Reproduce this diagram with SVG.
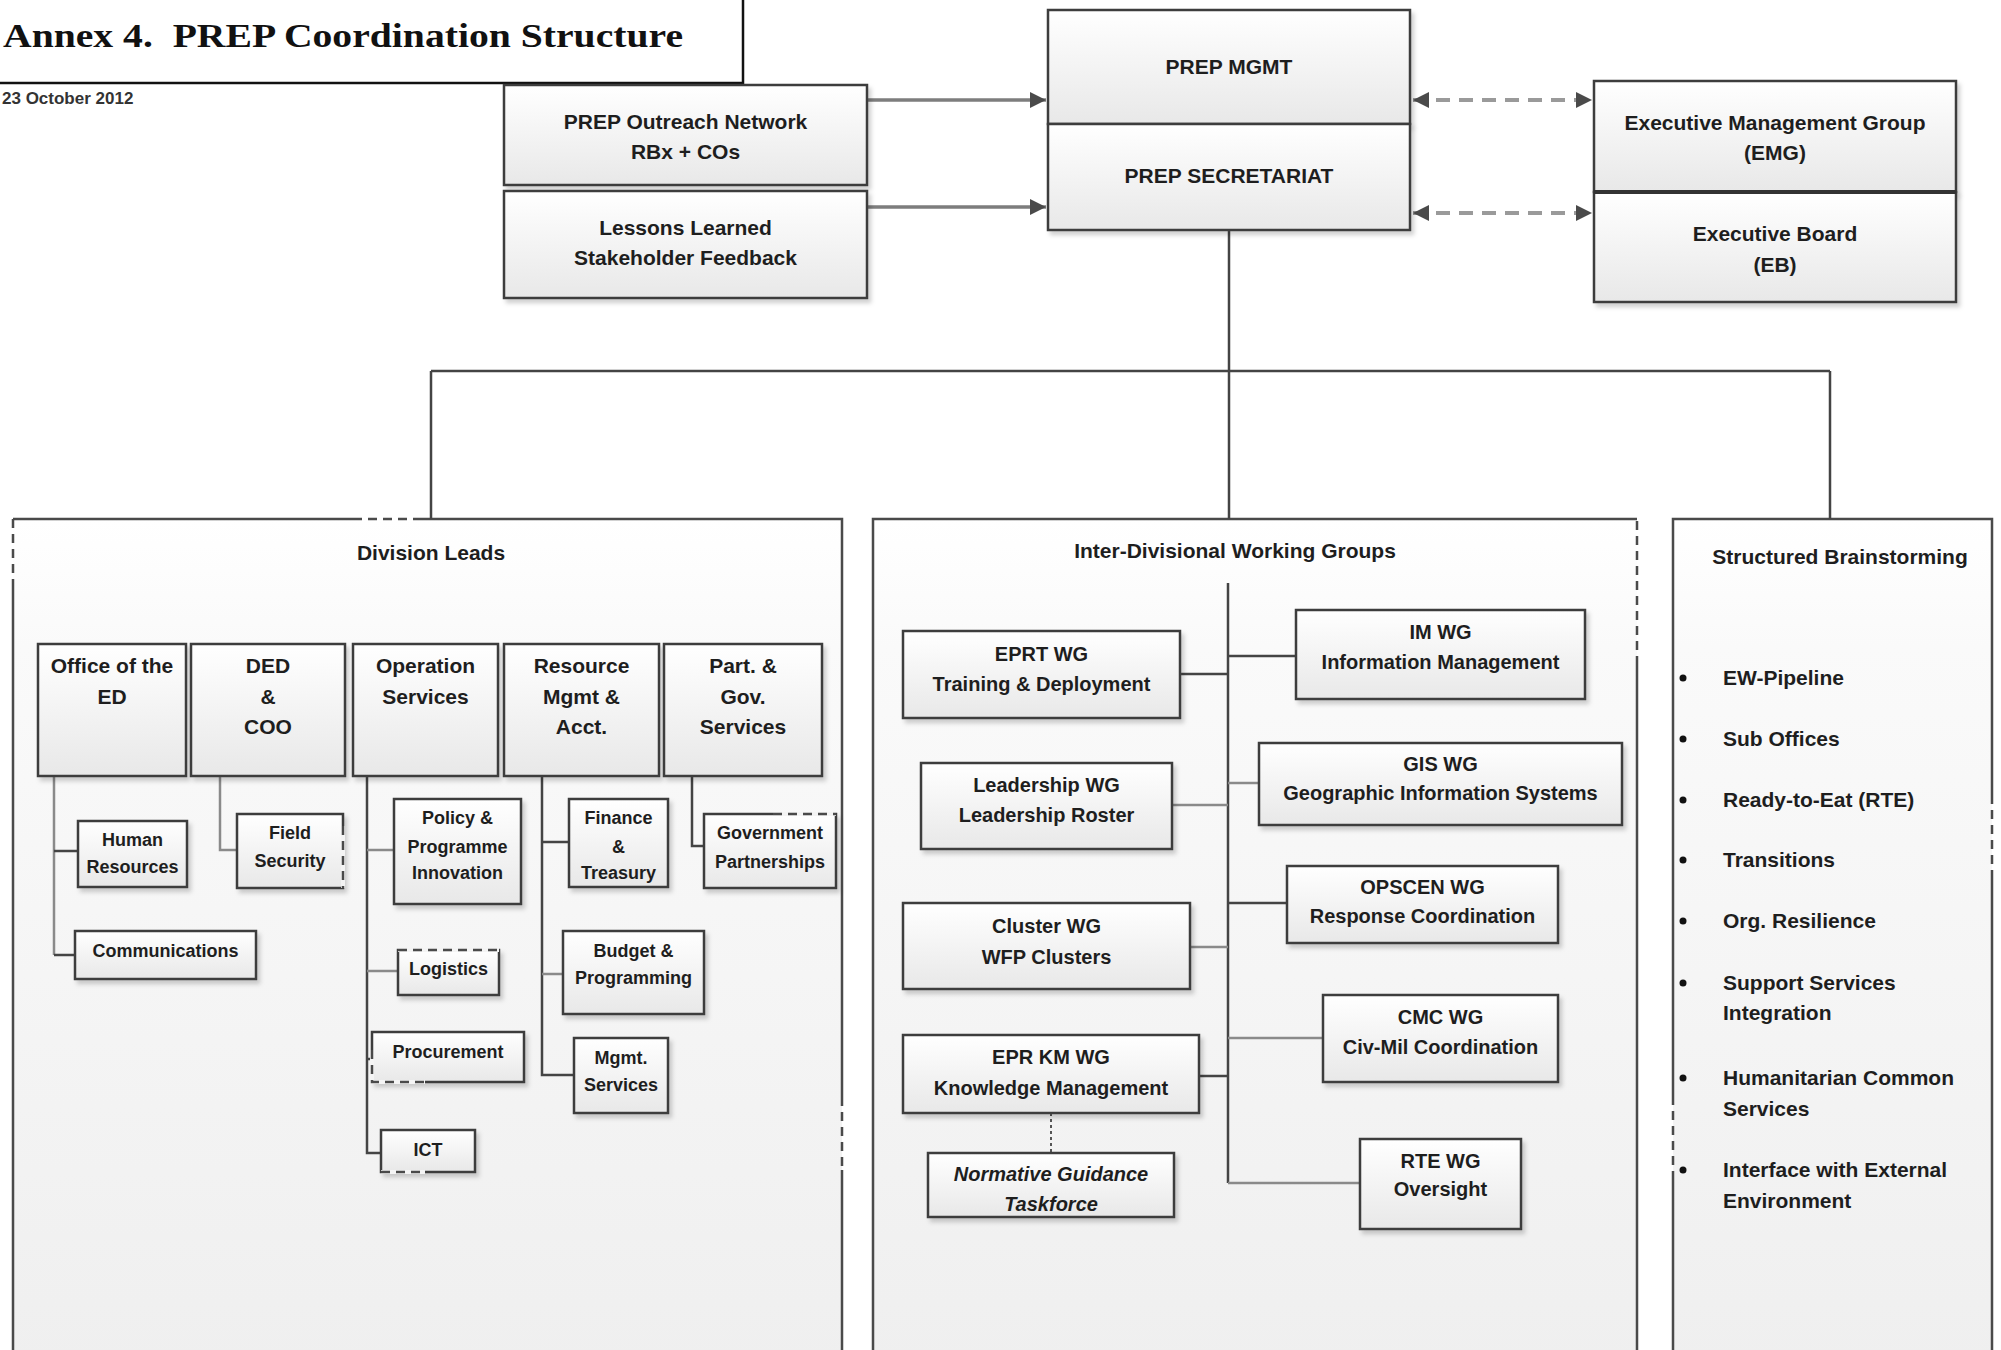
<svg xmlns="http://www.w3.org/2000/svg" width="2001" height="1350" viewBox="0 0 2001 1350">
<defs>
<linearGradient id="gb" x1="0" y1="0" x2="0" y2="1"><stop offset="0" stop-color="#ffffff"/><stop offset="1" stop-color="#e8e8e8"/></linearGradient>
<linearGradient id="gc" x1="0" y1="0" x2="0" y2="1"><stop offset="0" stop-color="#ffffff"/><stop offset="0.15" stop-color="#fafafa"/><stop offset="1" stop-color="#efefef"/></linearGradient>
<filter id="sh" x="-10%" y="-10%" width="125%" height="135%"><feDropShadow dx="3" dy="4" stdDeviation="2" flood-color="#000" flood-opacity="0.18"/></filter>
<marker id="ah" markerUnits="userSpaceOnUse" markerWidth="18" markerHeight="18" refX="16" refY="8" orient="auto-start-reverse"><path d="M0,0 L16,8 L0,16 z" fill="#4a4a4a"/></marker>
</defs>
<style>
.box{fill:url(#gb);stroke:#3d3d3d;stroke-width:2.5;filter:url(#sh)}
.cont{fill:url(#gc);stroke:none}
.bd{fill:none;stroke:#4a4a4a;stroke-width:2.5}
.bdd{fill:none;stroke:#4a4a4a;stroke-width:2.5;stroke-dasharray:9 6}
.gap{fill:none;stroke:#f4f4f4;stroke-width:4}
.ln{fill:none;stroke:#444;stroke-width:2.5}
.lt{fill:none;stroke:#8a8a8a;stroke-width:2.5}
.dot{fill:none;stroke:#555;stroke-width:2;stroke-dasharray:3 3}
.arr{fill:none;stroke:#7d7d7d;stroke-width:3.5}
.darr{fill:none;stroke:#9a9a9a;stroke-width:4;stroke-dasharray:14 9}
text{font-family:"Liberation Sans",Arial,sans-serif;font-weight:bold;fill:#1e1e1e;text-anchor:middle}
.f21{font-size:21px}
.f20{font-size:20px}
.f18{font-size:18px}
.it{font-style:italic}
.sb{font-size:21px;text-anchor:start}
</style>

<g id="title">
<rect x="-3" y="-3" width="746" height="86" fill="#ffffff" stroke="#111" stroke-width="2.5"/>
<text x="3" y="47" textLength="680" lengthAdjust="spacingAndGlyphs" style="font-family:'Liberation Serif','Times New Roman',serif;font-size:33px;text-anchor:start;fill:#111;white-space:pre">Annex 4.  PREP Coordination Structure</text>
</g>
<g id="date"><text x="2" y="104" style="font-size:17px;text-anchor:start;fill:#333">23 October 2012</text></g>

<g id="containers">
<g id="division-leads">
<rect class="cont" x="13" y="519" width="829" height="850"/>
<path class="bd" d="M13,580 V1370 M13,519 H353 M420,519 H842 V1097 M842,1170 V1370"/>
<path class="bdd" d="M353,519 H420 M13,519 V580 M842,1097 V1170"/>
<text class="f21" x="431" y="560">Division Leads</text>
</g>
<g id="inter-divisional">
<rect class="cont" x="873" y="519" width="764" height="850"/>
<path class="bd" d="M873,1370 V519 H1637 M1637,658 V1370"/>
<path class="bdd" d="M1637,521 V658"/>
<text class="f21" x="1235" y="558">Inter-Divisional Working Groups</text>
</g>
<g id="structured-brainstorming">
<rect class="cont" x="1673" y="519" width="319" height="850"/>
<path class="bd" d="M1673,1370 V1177 M1673,1096 V519 H1992 V795 M1992,874 V1370"/>
<path class="bdd" d="M1673,1096 V1177 M1992,795 V874"/>
<text class="f21" x="1840" y="564">Structured Brainstorming</text>
<g fill="#111">
<circle cx="1683" cy="678" r="3.5"/><circle cx="1683" cy="739" r="3.5"/><circle cx="1683" cy="800" r="3.5"/><circle cx="1683" cy="860" r="3.5"/><circle cx="1683" cy="921" r="3.5"/><circle cx="1683" cy="983" r="3.5"/><circle cx="1683" cy="1078" r="3.5"/><circle cx="1683" cy="1170" r="3.5"/>
</g>
<text class="sb" x="1723" y="685">EW-Pipeline</text>
<text class="sb" x="1723" y="746">Sub Offices</text>
<text class="sb" x="1723" y="807">Ready-to-Eat (RTE)</text>
<text class="sb" x="1723" y="867">Transitions</text>
<text class="sb" x="1723" y="928">Org. Resilience</text>
<text class="sb" x="1723" y="990">Support Services</text>
<text class="sb" x="1723" y="1020">Integration</text>
<text class="sb" x="1723" y="1085">Humanitarian Common</text>
<text class="sb" x="1723" y="1116">Services</text>
<text class="sb" x="1723" y="1177">Interface with External</text>
<text class="sb" x="1723" y="1208">Environment</text>
</g>
</g>

<g id="connectors">
<path class="arr" d="M867,100 H1046" marker-end="url(#ah)"/>
<path class="arr" d="M867,207 H1046" marker-end="url(#ah)"/>
<path class="darr" d="M1413,100 H1592" marker-start="url(#ah)" marker-end="url(#ah)"/>
<path class="darr" d="M1413,213 H1592" marker-start="url(#ah)" marker-end="url(#ah)"/>
<path class="ln" d="M1229,230 V519 M431,371 H1830 M431,371 V519 M1830,371 V519"/>
<path class="lt" d="M54,776 V955"/>
<path class="ln" d="M54,851 H78 M54,955 H75"/>
<path class="lt" d="M220,776 V850 H237"/>
<path class="ln" d="M367,776 V1153 H381 M367,1059 H372"/>
<path class="lt" d="M367,850 H394 M367,971 H398"/>
<path class="ln" d="M542,776 V1075 H574 M542,842 H569"/>
<path class="lt" d="M542,974 H563"/>
<path class="ln" d="M692,776 V846 H704"/>
<path class="ln" d="M1228,583 V1183 M1180,674 H1228 M1228,656 H1296 M1228,903 H1287 M1199,1076 H1228"/>
<path class="lt" d="M1172,805 H1228 M1228,783 H1259 M1190,947 H1228 M1228,1038 H1323 M1228,1183 H1360"/>
<path class="dot" d="M1051,1113 V1153"/>
</g>

<g id="prep-mgmt"><rect class="box" x="1048" y="10" width="362" height="114"/><text class="f21" x="1229" y="74">PREP MGMT</text></g>
<g id="prep-secretariat"><rect class="box" x="1048" y="124" width="362" height="106"/><text class="f21" x="1229" y="183">PREP SECRETARIAT</text></g>
<g id="outreach"><rect class="box" x="504" y="85" width="363" height="100"/><text class="f21" x="685.5" y="129">PREP Outreach Network</text><text class="f21" x="685.5" y="159">RBx + COs</text></g>
<g id="lessons"><rect class="box" x="504" y="191" width="363" height="107"/><text class="f21" x="685.5" y="235">Lessons Learned</text><text class="f21" x="685.5" y="265">Stakeholder Feedback</text></g>
<g id="emg"><rect class="box" x="1594" y="81" width="362" height="111"/><text class="f21" x="1775" y="130">Executive Management Group</text><text class="f21" x="1775" y="160">(EMG)</text></g>
<g id="eb"><rect class="box" x="1594" y="192" width="362" height="110"/><path d="M1594,192 H1956" stroke="#333" stroke-width="4"/><text class="f21" x="1775" y="241">Executive Board</text><text class="f21" x="1775" y="272">(EB)</text></g>

<g id="office-ed"><rect class="box" x="38" y="644" width="148" height="132"/><text class="f21" x="112" y="673">Office of the</text><text class="f21" x="112" y="704">ED</text></g>
<g id="ded-coo"><rect class="box" x="191" y="644" width="154" height="132"/><text class="f21" x="268" y="673">DED</text><text class="f21" x="268" y="704">&amp;</text><text class="f21" x="268" y="734">COO</text></g>
<g id="operation-services"><rect class="box" x="353" y="644" width="145" height="132"/><text class="f21" x="425.5" y="673">Operation</text><text class="f21" x="425.5" y="704">Services</text></g>
<g id="resource-mgmt"><rect class="box" x="504" y="644" width="155" height="132"/><text class="f21" x="581.5" y="673">Resource</text><text class="f21" x="581.5" y="704">Mgmt &amp;</text><text class="f21" x="581.5" y="734">Acct.</text></g>
<g id="part-gov"><rect class="box" x="664" y="644" width="158" height="132"/><text class="f21" x="743" y="673">Part. &amp;</text><text class="f21" x="743" y="704">Gov.</text><text class="f21" x="743" y="734">Services</text></g>

<g id="human-resources"><rect class="box" x="78" y="821" width="109" height="66"/><text class="f18" x="132.5" y="846">Human</text><text class="f18" x="132.5" y="873">Resources</text></g>
<g id="field-security"><rect class="box" x="237" y="814" width="106" height="74"/><path class="gap" d="M343,826 V888"/><path class="bdd" d="M343,826 V888"/><text class="f18" x="290" y="839">Field</text><text class="f18" x="290" y="867">Security</text></g>
<g id="policy-programme"><rect class="box" x="394" y="799" width="127" height="105"/><text class="f18" x="457.5" y="824">Policy &amp;</text><text class="f18" x="457.5" y="853">Programme</text><text class="f18" x="457.5" y="879">Innovation</text></g>
<g id="finance-treasury"><rect class="box" x="569" y="799" width="99" height="88"/><text class="f18" x="618.5" y="824">Finance</text><text class="f18" x="618.5" y="853">&amp;</text><text class="f18" x="618.5" y="879">Treasury</text></g>
<g id="gov-partnerships"><rect class="box" x="704" y="814" width="132" height="74"/><path class="gap" d="M773,814 H836"/><path class="bdd" d="M773,814 H836"/><text class="f18" x="770" y="839">Government</text><text class="f18" x="770" y="868">Partnerships</text></g>
<g id="communications"><rect class="box" x="75" y="931" width="181" height="48"/><text class="f18" x="165.5" y="957">Communications</text></g>
<g id="logistics"><rect class="box" x="398" y="950" width="101" height="45"/><path class="gap" d="M398,950 H499"/><path class="bdd" d="M398,950 H499"/><text class="f18" x="448.5" y="975">Logistics</text></g>
<g id="procurement"><rect class="box" x="372" y="1032" width="152" height="50"/><path class="gap" d="M372,1050 V1082 H425"/><path class="bdd" d="M372,1050 V1082 H425"/><text class="f18" x="448" y="1058">Procurement</text></g>
<g id="ict"><rect class="box" x="381" y="1130" width="94" height="42"/><path class="gap" d="M381,1172 H425"/><path class="bdd" d="M381,1172 H425"/><text class="f18" x="428" y="1156">ICT</text></g>
<g id="budget-programming"><rect class="box" x="563" y="931" width="141" height="83"/><text class="f18" x="633.5" y="957">Budget &amp;</text><text class="f18" x="633.5" y="984">Programming</text></g>
<g id="mgmt-services"><rect class="box" x="574" y="1038" width="94" height="75"/><text class="f18" x="621" y="1064">Mgmt.</text><text class="f18" x="621" y="1091">Services</text></g>

<g id="eprt-wg"><rect class="box" x="903" y="631" width="277" height="87"/><text class="f20" x="1041.5" y="661">EPRT WG</text><text class="f20" x="1041.5" y="691">Training &amp; Deployment</text></g>
<g id="leadership-wg"><rect class="box" x="921" y="763" width="251" height="86"/><text class="f20" x="1046.5" y="792">Leadership WG</text><text class="f20" x="1046.5" y="822">Leadership Roster</text></g>
<g id="cluster-wg"><rect class="box" x="903" y="903" width="287" height="86"/><text class="f20" x="1046.5" y="933">Cluster WG</text><text class="f20" x="1046.5" y="964">WFP Clusters</text></g>
<g id="epr-km-wg"><rect class="box" x="903" y="1035" width="296" height="78"/><text class="f20" x="1051" y="1064">EPR KM WG</text><text class="f20" x="1051" y="1095">Knowledge Management</text></g>
<g id="normative-guidance"><rect class="box" x="928" y="1153" width="246" height="64"/><text class="f20 it" x="1051" y="1181">Normative Guidance</text><text class="f20 it" x="1051" y="1211">Taskforce</text></g>
<g id="im-wg"><rect class="box" x="1296" y="610" width="289" height="89"/><text class="f20" x="1440.5" y="639">IM WG</text><text class="f20" x="1440.5" y="669">Information Management</text></g>
<g id="gis-wg"><rect class="box" x="1259" y="743" width="363" height="82"/><text class="f20" x="1440.5" y="771">GIS WG</text><text class="f20" x="1440.5" y="800">Geographic Information Systems</text></g>
<g id="opscen-wg"><rect class="box" x="1287" y="866" width="271" height="77"/><text class="f20" x="1422.5" y="894">OPSCEN WG</text><text class="f20" x="1422.5" y="923">Response Coordination</text></g>
<g id="cmc-wg"><rect class="box" x="1323" y="995" width="235" height="87"/><text class="f20" x="1440.5" y="1024">CMC WG</text><text class="f20" x="1440.5" y="1054">Civ-Mil Coordination</text></g>
<g id="rte-wg"><rect class="box" x="1360" y="1139" width="161" height="90"/><text class="f20" x="1440.5" y="1168">RTE WG</text><text class="f20" x="1440.5" y="1196">Oversight</text></g>
</svg>
